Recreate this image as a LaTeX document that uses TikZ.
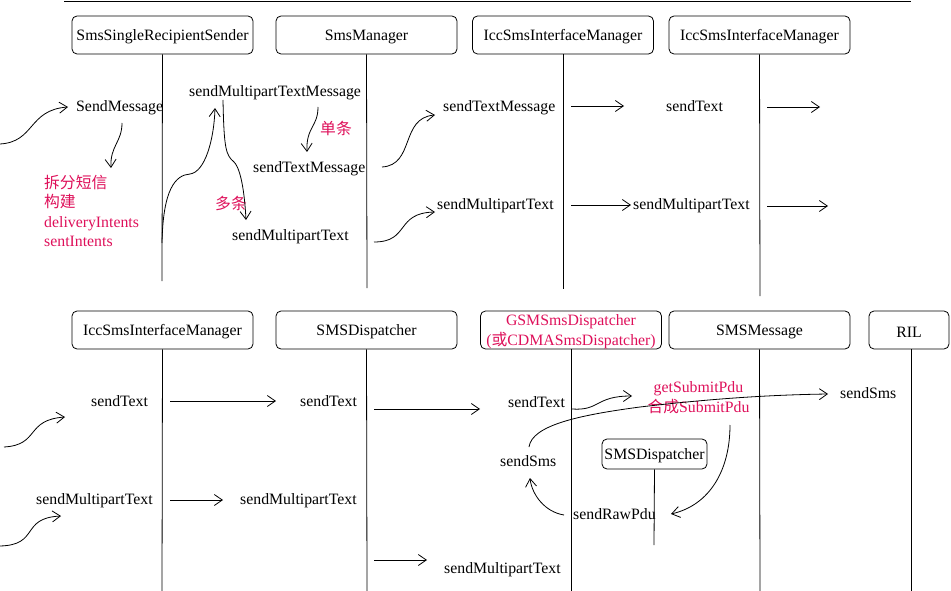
\documentclass[tikz,border=0pt]{standalone}
\usepackage{fontspec}
\setmainfont{Liberation Serif}
\newfontfamily\cjk{Noto Sans CJK SC}
\usetikzlibrary{arrows.meta}
\definecolor{redtxt}{RGB}{222,16,90}
\begin{document}
\begin{tikzpicture}[x=1pt,y=-1pt,
  every node/.style={font=\fontsize{15.8}{20}\selectfont},
  obj/.style={draw,rounded corners=5pt,minimum width=181pt,minimum height=38pt,inner sep=0pt,line width=0.8pt,align=center,execute at begin node={\rule{0pt}{14.5pt}}},
  lbl/.style={inner sep=0pt,text height=13pt,text depth=1.5pt,anchor=west},
  redl/.style={lbl,text=redtxt},
  life/.style={line width=0.8pt},
  arr/.style={line width=0.8pt,-{Straight Barb[length=8pt,width=11pt]}}]
\useasboundingbox (0,0) rectangle (951,591);
\draw[line width=0.8pt] (64,1) -- (911,1);

% top row objects
\node[obj] (b1) at (162.5,35) {SmsSingleRecipientSender};
\node[obj] (b2) at (366.5,35) {SmsManager};
\node[obj] (b3) at (563,35) {IccSmsInterfaceManager};
\node[obj] (b4) at (759.5,35) {IccSmsInterfaceManager};
\coordinate (e1) at (162,281);
\coordinate (e2) at (367,288);
\coordinate (e3) at (563,289);
\coordinate (e4) at (760,296);
\draw[life] (b1.south) -- (e1);
\draw[life] (b2.south) -- (e2);
\draw[life] (b3.south) -- (e3);
\draw[life] (b4.south) -- (e4);

% bottom row objects
\node[obj] (c1) at (162.5,330) {IccSmsInterfaceManager};
\node[obj] (c2) at (366.5,330) {SMSDispatcher};
\node[obj,text=redtxt,text width=181pt] (c3) at (571,330) {GSMSmsDispatcher\\({\cjk 或}CDMASmsDispatcher)};
\node[obj] (c4) at (759.5,330) {SMSMessage};
\node[obj,minimum width=80pt] (c5) at (909,330) {RIL};
\node[obj,minimum width=105pt,minimum height=30pt] (c6) at (654.5,454) {SMSDispatcher};
\coordinate (f1) at (162,591);
\coordinate (f2) at (367,591);
\coordinate (f3) at (571,591);
\coordinate (f4) at (760,591);
\coordinate (f5) at (911,591);
\coordinate (f6) at (654,545);
\draw[life] (c1.south) -- (f1);
\draw[life] (c2.south) -- (f2);
\draw[life] (c3.south) -- (f3);
\draw[life] (c4.south) -- (f4);
\draw[life] (c5.south -| f5) -- (f5);
\draw[life] (c6.south) -- (f6);

% top labels
\node[lbl] (t1) at (76,106) {SendMessage};
\node[lbl] (t2) at (189,91) {sendMultipartTextMessage};
\node[inner sep=0pt,anchor=west,text=redtxt,align=left,font=\fontsize{15.8}{19.4}\selectfont] (t3) at (44,211) {{\cjk 拆分短信}\\{\cjk 构建}\\deliveryIntents\\sentIntents};
\node[redl] (t4) at (320,129) {\cjk 单条};
\node[lbl] (t5) at (253,167) {sendTextMessage};
\node[redl] (t6) at (215,204) {\cjk 多条};
\node[lbl] (t7) at (232,235) {sendMultipartText};
\node[lbl] (t8) at (443,106) {sendTextMessage};
\node[lbl] (t9) at (437,204) {sendMultipartText};
\node[lbl] (t10) at (666,106) {sendText};
\node[lbl] (t11) at (633,204) {sendMultipartText};

% bottom labels
\node[lbl] (u1) at (91,401) {sendText};
\node[lbl] (u2) at (300,401) {sendText};
\node[lbl] (u3) at (508,402) {sendText};
\node[inner sep=0pt,text=redtxt,align=center] (u4) at (698.5,397.5) {getSubmitPdu\\{\cjk 合成}SubmitPdu};
\node[lbl] (u5) at (840,393) {sendSms};
\node[lbl] (u6) at (500,461) {sendSms};
\node[lbl] (u7) at (573,514) {sendRawPdu};
\node[lbl] (u8) at (36,499) {sendMultipartText};
\node[lbl] (u9) at (240,499) {sendMultipartText};
\node[lbl] (u10) at (444,568) {sendMultipartText};

% top connectors
\coordinate (p1) at (0,144);
\draw[arr] (p1) .. controls (35,142) and (28,110) .. (68,107);
\draw[arr] (122,123) .. controls (122,142) and (110,146) .. (111,168);
\draw[arr] (162,243) .. controls (163,190) and (175,175) .. (190,174) .. controls (205,172) and (214,140) .. (215,108);
\draw[arr] (223,100) .. controls (224,150) and (226,155) .. (234,162) .. controls (242,170) and (245,200) .. (246,220);
\draw[arr] (318,107) .. controls (318,127) and (306,127) .. (307,152);
\draw[arr] (382,167) .. controls (415,165) and (400,118) .. (435,115);
\draw[arr] (374,242) .. controls (410,242) and (395,213) .. (435,212);
\draw[arr] (571,106) -- (624,106);
\draw[arr] (767,107) -- (820,107);
\draw[arr] (571,205) -- (631,205);
\draw[arr] (767,206) -- (828,206);

% bottom connectors
\draw[arr] (4,447) .. controls (40,445) and (25,420) .. (65,417);
\draw[arr] (0,546) .. controls (40,545) and (20,518) .. (61,516);
\draw[arr] (170,401) -- (276,401);
\draw[arr] (374,409) -- (480,409);
\draw[arr] (170,500) -- (223,500);
\draw[arr] (374,560) -- (427,560);
\draw[arr] (572,409) .. controls (600,411) and (595,396) .. (632,396);
\draw[arr] (529,447) .. controls (532,425) and (580,415) .. (640,407) .. controls (700,400) and (760,395) .. (828,394);
\draw[arr] (730,425) .. controls (730,470) and (710,505) .. (671,514);
\draw[arr] (564,515) .. controls (545,512) and (532,495) .. (530,478);
\end{tikzpicture}
\end{document}
